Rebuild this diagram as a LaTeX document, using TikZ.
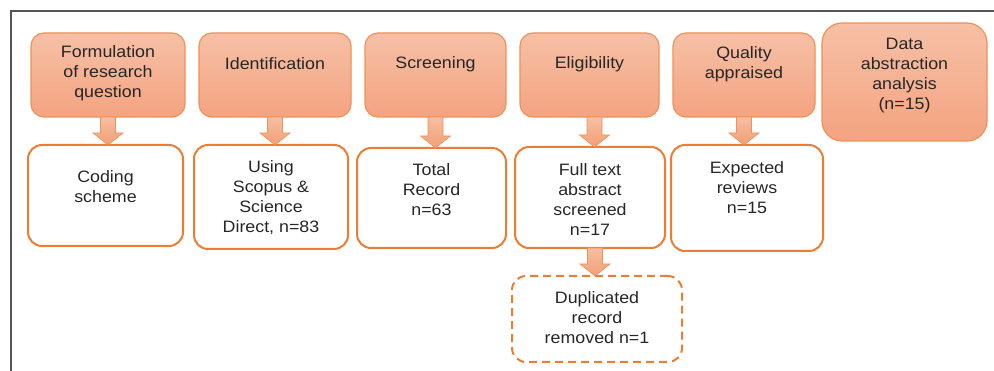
\documentclass[tikz,border=0pt]{standalone}
\usepackage{fontspec}
\setmainfont{Liberation Sans}[FakeStretch=1.08]
\usetikzlibrary{calc}
\definecolor{framegray}{RGB}{85,85,85}
\definecolor{otop}{RGB}{246,192,166}
\definecolor{obot}{RGB}{244,163,128}
\definecolor{oline}{RGB}{240,145,88}
\definecolor{wline}{RGB}{237,125,49}
\definecolor{atop}{RGB}{246,190,162}
\definecolor{abot}{RGB}{242,160,118}
\definecolor{txtc}{RGB}{38,38,38}
\tikzset{
  obox/.style={draw=oline, line width=1.2pt, rounded corners=13pt, top color=otop, bottom color=obot, outer sep=0pt, inner sep=0pt},
  wbox/.style={draw=wline, line width=2pt, rounded corners=14pt, fill=white, outer sep=0pt, inner sep=0pt},
  dbox/.style={wbox, dash pattern=on 8pt off 5pt},
  txt/.style={align=center, text=txtc, inner sep=0pt, font=\fontsize{16.5pt}{20pt}\selectfont},
  barrow/.style={draw=oline, line width=0.6pt, top color=atop, bottom color=abot, line join=miter}
}
\newcommand{\blockarrow}[3]{%
  \path[barrow] let \p1=(#1.south), \p2=(#2.north) in
    (\x1+#3-7.5pt,\y1) -- (\x1+#3+7.5pt,\y1) -- (\x1+#3+7.5pt,\y2+12pt) -- (\x1+#3+15pt,\y2+12pt)
    -- (\x1+#3,\y2) -- (\x1+#3-15pt,\y2+12pt) -- (\x1+#3-7.5pt,\y2+12pt) -- cycle;}
\begin{document}
\begin{tikzpicture}[x=1pt,y=-1pt]
\useasboundingbox (0,0) rectangle (994,371);
\fill[white] (0,0) rectangle (994,371);
% frame
\draw[framegray, line width=2pt] (11,371) -- (11,11) -- (994,11);
% top boxes
\node[obox, minimum width=154pt, minimum height=84pt] (f1) at (108,75) {};
\node[obox, minimum width=152pt, minimum height=84pt] (f2) at (275,75) {};
\node[obox, minimum width=141pt, minimum height=84pt] (f3) at (435.5,75) {};
\node[obox, minimum width=139pt, minimum height=84pt] (f4) at (589.5,75) {};
\node[obox, minimum width=142pt, minimum height=84pt] (f5) at (744,75) {};
\node[obox, rounded corners=20pt, minimum width=165pt, minimum height=118pt] (f6) at (904.5,82) {};
% white boxes
\node[wbox, minimum width=155pt, minimum height=101pt] (w1) at (105.5,195.5) {};
\node[wbox, minimum width=154pt, minimum height=104pt] (w2) at (271,197) {};
\node[wbox, minimum width=149pt, minimum height=100pt] (w3) at (431.5,198) {};
\node[wbox, minimum width=150pt, minimum height=101pt] (w4) at (590,197.5) {};
\node[wbox, minimum width=152pt, minimum height=106pt] (w5) at (747,198) {};
\node[dbox, minimum width=170pt, minimum height=86pt] (w6) at (597,319) {};
% arrows
\blockarrow{f1}{w1}{0pt}
\blockarrow{f2}{w2}{0pt}
\blockarrow{f3}{w3}{0pt}
\blockarrow{f4}{w4}{5pt}
\blockarrow{f5}{w5}{0pt}
\blockarrow{w4}{w6}{5pt}
% texts
\node[txt] (t1) at (108,73) {Formulation\\of research\\question};
\node[txt] (t2) at (275,64) {Identification};
\node[txt] (t3) at (435.5,64) {Screening};
\node[txt] (t4) at (589.5,64) {Eligibility};
\node[txt] (t5) at (744,64.5) {Quality\\appraised};
\node[txt] (t6) at (904.5,76) {Data\\abstraction\\analysis\\(n=15)};
\node[txt] (u1) at (105.5,186.5) {Coding\\scheme};
\node[txt] (u2) at (271,198) {Using\\Scopus \&\\Science\\Direct, n=83};
\node[txt] (u3) at (431.5,190) {Total\\Record\\n=63};
\node[txt] (u4) at (590,200) {Full text\\abstract\\screened\\n=17};
\node[txt] (u5) at (747,188) {Expected\\reviews\\n=15};
\node[txt] (u6) at (597,318) {Duplicated\\record\\removed n=1};
\end{tikzpicture}
\end{document}
